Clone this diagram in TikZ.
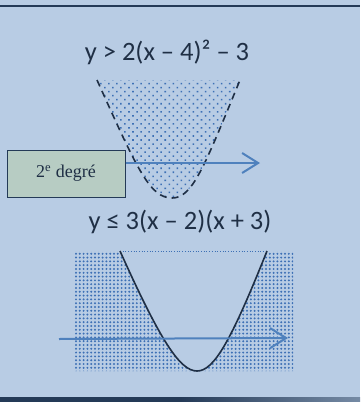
\documentclass[tikz,border=0pt]{standalone}
\usepackage{fontspec}
\setmainfont{Carlito}
\newfontfamily\boxfont{Liberation Serif}
\usetikzlibrary{arrows.meta,patterns.meta}

\definecolor{bgblue}{HTML}{B8CCE4}
\definecolor{arrblue}{HTML}{4F81BD}
\definecolor{dotblue}{HTML}{3D70B5}
\definecolor{inkdark}{HTML}{1F2F45}
\definecolor{boxgreen}{HTML}{B7CCC3}
\definecolor{ruledark}{HTML}{243A57}

\begin{document}
\begin{tikzpicture}[
  x=1pt,y=-1pt,
  ineq/.style={text=inkdark,font=\fontsize{26.5}{30}\selectfont,inner sep=0pt},
  degbox/.style={draw=ruledark,line width=1pt,fill=boxgreen,minimum width=118pt,minimum height=47pt,inner sep=0pt,font=\boxfont\fontsize{18}{22}\selectfont,text=inkdark},
  arr/.style={arrblue,line width=2pt,-{Straight Barb[length=16pt,width=20pt]}},
  curve/.style={inkdark,line width=1.6pt},
  sparse/.style={pattern={Dots[distance=5.7pt,radius=1.1pt,angle=45]},pattern color=dotblue},
  dense/.style={pattern={Dots[distance=3.8pt,radius=1.1pt]},pattern color=dotblue}
]
\fill[bgblue] (0,0) rectangle (360,402);
\useasboundingbox (0,0) rectangle (360,402);
% rules top and bottom
\draw[ruledark,line width=2.5pt] (0,6) -- (360,6);
\shade[left color=ruledark,right color=ruledark!45!bgblue,middle color=ruledark] (0,397.5) rectangle (360,402);

% first inequality
\node[ineq] (eq1) at (167,52) {y > 2(x – 4)² – 3};
\fill[sparse] (97,80) .. controls (137.5,170) and (150,198) .. (172,198)
  .. controls (192,198) and (203,170) .. (240,80) -- cycle;
\draw[curve,dash pattern=on 7pt off 5pt] (97,80) .. controls (137.5,170) and (150,198) .. (172,198)
  .. controls (192,198) and (203,170) .. (240,80);
\node[degbox] (deg) at (66,173.5) {2\textsuperscript{e} degré};
\coordinate (a1e) at (260,163);
\draw[arr] ([yshift=10.5pt]deg.east) -- (a1e);

% second inequality
\node[ineq] (eq2) at (180,222) {y ≤ 3(x – 2)(x + 3)};
\fill[dense,even odd rule] (75,251) rectangle (293,371)
  (120,251) .. controls (160.5,341) and (180,371) .. (197,371)
  .. controls (214,371) and (231,341) .. (267,251) -- cycle;
\draw[dotblue,line width=0.7pt,dotted] (120,251) -- (267,251);
\draw[curve] (120,251) .. controls (160.5,341) and (180,371) .. (197,371)
  .. controls (214,371) and (231,341) .. (267,251);
\coordinate (a2s) at (59,339);
\coordinate (a2e) at (288,338);
\draw[arr] (a2s) -- (a2e);
\end{tikzpicture}
\end{document}
